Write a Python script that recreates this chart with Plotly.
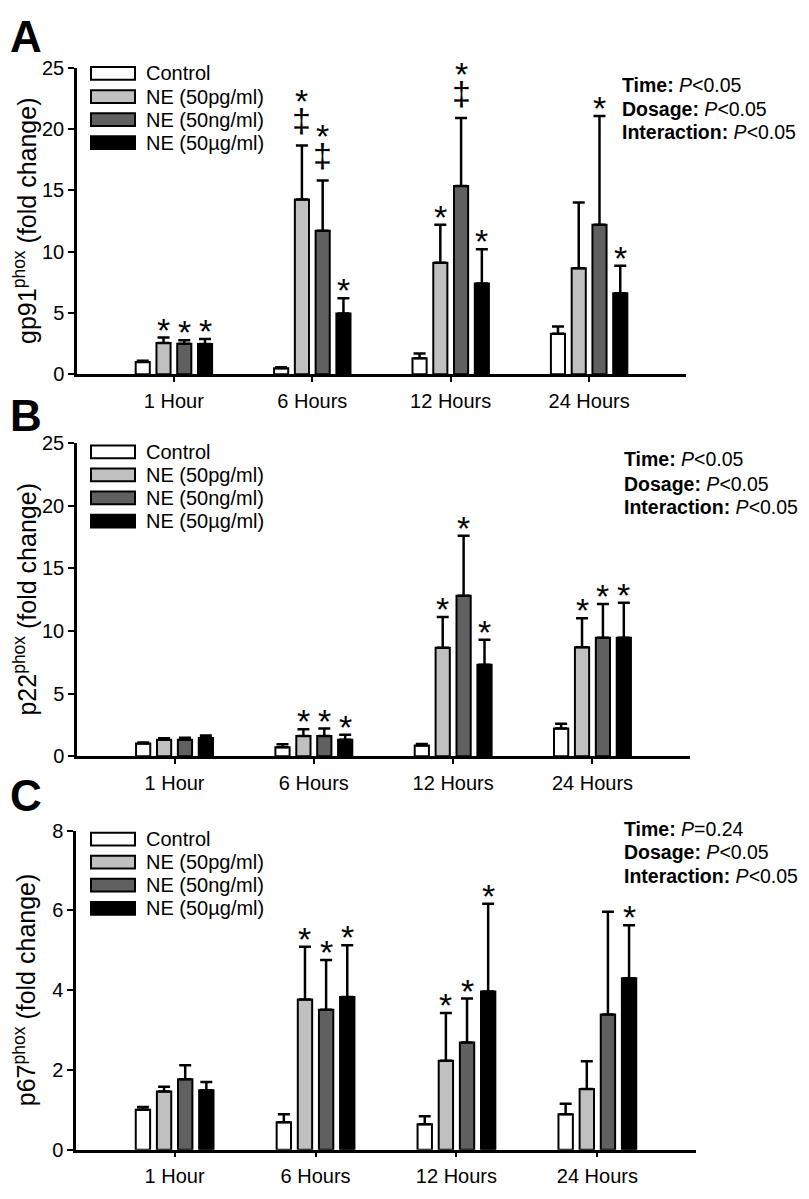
import plotly.graph_objects as go

# ---------------- data ----------------
categories = ["1 Hour", "6 Hours", "12 Hours", "24 Hours"]
groups = ["Control", "NE (50pg/ml)", "NE (50ng/ml)", "NE (50µg/ml)"]

# Panel A: gp91phox
gp91_control = [1.0, 0.5, 1.3, 3.3]
gp91_control_err = [0.1, 0.08, 0.4, 0.6]
gp91_pg = [2.55, 14.25, 9.1, 8.65]
gp91_pg_err = [0.45, 4.4, 3.1, 5.35]
gp91_ng = [2.5, 11.7, 15.35, 12.2]
gp91_ng_err = [0.27, 4.1, 5.55, 8.85]
gp91_ug = [2.48, 4.95, 7.4, 6.6]
gp91_ug_err = [0.4, 1.25, 2.8, 2.25]
gp91_sig = [["", "", "", ""],
            ["*", "*‡", "*", ""],
            ["*", "*‡", "*‡", "*"],
            ["*", "*", "*", "*"]]

# Panel B: p22phox
p22_control = [1.0, 0.7, 0.85, 2.2]
p22_control_err = [0.08, 0.25, 0.12, 0.38]
p22_pg = [1.3, 1.6, 8.65, 8.7]
p22_pg_err = [0.12, 0.55, 2.45, 2.3]
p22_ng = [1.3, 1.6, 12.8, 9.45]
p22_ng_err = [0.17, 0.6, 4.8, 2.7]
p22_ug = [1.45, 1.3, 7.3, 9.45]
p22_ug_err = [0.2, 0.4, 2.0, 2.8]
p22_sig = [["", "", "", ""],
           ["", "*", "*", "*"],
           ["", "*", "*", "*"],
           ["", "*", "*", "*"]]

# Panel C: p67phox
p67_control = [1.0, 0.69, 0.64, 0.89]
p67_control_err = [0.07, 0.2, 0.2, 0.26]
p67_pg = [1.46, 3.77, 2.23, 1.52]
p67_pg_err = [0.12, 1.32, 1.2, 0.7]
p67_ng = [1.77, 3.51, 2.69, 3.39]
p67_ng_err = [0.35, 1.25, 1.1, 2.58]
p67_ug = [1.49, 3.83, 3.97, 4.3]
p67_ug_err = [0.21, 1.3, 2.2, 1.33]
p67_sig = [["", "", "", ""],
           ["", "*", "*", ""],
           ["", "*", "*", ""],
           ["", "*", "*", "*"]]

stats_A = ["<b>Time:</b> <i>P</i>&lt;0.05", "<b>Dosage:</b> <i>P</i>&lt;0.05", "<b>Interaction:</b> <i>P</i>&lt;0.05"]
stats_B = ["<b>Time:</b> <i>P</i>&lt;0.05", "<b>Dosage:</b> <i>P</i>&lt;0.05", "<b>Interaction:</b> <i>P</i>&lt;0.05"]
stats_C = ["<b>Time:</b> <i>P</i>=0.24", "<b>Dosage:</b> <i>P</i>&lt;0.05", "<b>Interaction:</b> <i>P</i>&lt;0.05"]

panels = [
    dict(letter="A", ytitle="gp91<sup>phox</sup> (fold change)", yrange=[0, 25], dtick=5,
         vals=[gp91_control, gp91_pg, gp91_ng, gp91_ug],
         errs=[gp91_control_err, gp91_pg_err, gp91_ng_err, gp91_ug_err],
         sig=gp91_sig, stats=stats_A),
    dict(letter="B", ytitle="p22<sup>phox</sup> (fold change)", yrange=[0, 25], dtick=5,
         vals=[p22_control, p22_pg, p22_ng, p22_ug],
         errs=[p22_control_err, p22_pg_err, p22_ng_err, p22_ug_err],
         sig=p22_sig, stats=stats_B),
    dict(letter="C", ytitle="p67<sup>phox</sup> (fold change)", yrange=[0, 8], dtick=2,
         vals=[p67_control, p67_pg, p67_ng, p67_ug],
         errs=[p67_control_err, p67_pg_err, p67_ng_err, p67_ug_err],
         sig=p67_sig, stats=stats_C),
]

# ---------------- styling / geometry ----------------
# page body has an 8px margin, so the figure is drawn 8px in from the window edge
OFF = 8
W, H = 809 - OFF, 1199 - OFF
FONT = "Liberation Sans, Arial, Helvetica, sans-serif"
fills = ["#ffffff", "#c0c0c0", "#606060", "#000000"]

# positions below are in window pixels
geom = [
    dict(left=77, right=686, top=57.5, bottom=370, letter_y=26, leg_y=63.5, stats_x=620, stats_y=[75, 100, 123.5]),
    dict(left=77, right=690, top=440, bottom=759, letter_y=412, leg_y=449, stats_x=622, stats_y=[456.7, 481.7, 505.5]),
    dict(left=76, right=696, top=835, bottom=1160, letter_y=799, leg_y=843.5, stats_x=622, stats_y=[833, 857, 881]),
]


def px(x):
    return (x - OFF) / W


def py(y):
    return 1 - (y - OFF) / H


fig = go.Figure()
annotations = []
shapes = []
MARK = dict(size=34, family=FONT, color="black")

for p, (panel, g) in enumerate(zip(panels, geom), start=1):
    xa = "x" if p == 1 else f"x{p}"
    ya = "y" if p == 1 else f"y{p}"
    for j, grp in enumerate(groups):
        fig.add_trace(go.Bar(
            x=categories, y=panel["vals"][j], name=grp, showlegend=False,
            xaxis=xa, yaxis=ya, offsetgroup=str(j),
            marker=dict(color=fills[j], line=dict(color="black", width=2)),
            error_y=dict(type="data", symmetric=False, array=panel["errs"][j],
                         arrayminus=[0] * len(categories), color="black",
                         thickness=2.5, width=6),
        ))
        # significance marks
        for i, s in enumerate(panel["sig"][j]):
            if not s:
                continue
            top = panel["vals"][j][i] + panel["errs"][j][i]
            xpos = i + (j - 1.5) * 0.15
            if "‡" in s:
                annotations.append(dict(x=xpos, y=top, xref=xa, yref=ya, text="‡", showarrow=False,
                                        yanchor="middle", yshift=25, font=MARK))
                annotations.append(dict(x=xpos, y=top, xref=xa, yref=ya, text="*", showarrow=False,
                                        yanchor="middle", yshift=44, font=MARK))
            else:
                annotations.append(dict(x=xpos, y=top, xref=xa, yref=ya, text="*", showarrow=False,
                                        yanchor="middle", yshift=8, font=MARK))

    xkey = "xaxis" if p == 1 else f"xaxis{p}"
    ykey = "yaxis" if p == 1 else f"yaxis{p}"
    fig.update_layout(**{
        xkey: dict(domain=[px(g["left"]), px(g["right"])], anchor=ya, range=[-0.7, 3.7],
                   showline=True, linecolor="black", linewidth=2.5, ticks="outside", ticklen=5,
                   tickwidth=2, tickcolor="black", showgrid=False, zeroline=False,
                   tickfont=dict(size=20, family=FONT, color="black"), ticklabelstandoff=2),
        ykey: dict(domain=[py(g["bottom"]), py(g["top"])], anchor=xa, range=panel["yrange"],
                   dtick=panel["dtick"], showline=True, linecolor="black", linewidth=2.5,
                   ticks="outside", ticklen=6, tickwidth=2, tickcolor="black", showgrid=False,
                   zeroline=False, tickfont=dict(size=20, family=FONT, color="black"),
                   ticklabelstandoff=0),
    })

    # y-axis title
    annotations.append(dict(x=px(25), y=py((g["top"] + g["bottom"]) / 2), xref="paper", yref="paper",
                            text=panel["ytitle"], textangle=-90, showarrow=False,
                            xanchor="center", yanchor="middle",
                            font=dict(size=25, family=FONT, color="black")))
    # panel letter
    annotations.append(dict(x=0, y=py(g["letter_y"]), xref="paper", yref="paper", text=f"<b>{panel['letter']}</b>",
                            showarrow=False, xanchor="left", yanchor="middle",
                            font=dict(size=44, family=FONT, color="black")))
    # stats text
    for k, t in enumerate(panel["stats"]):
        annotations.append(dict(x=px(g["stats_x"]), y=py(g["stats_y"][k]), xref="paper", yref="paper",
                                text=t, showarrow=False, xanchor="left", yanchor="middle",
                                font=dict(size=19.5, family=FONT, color="black")))
    # legend (manual)
    for j, grp in enumerate(groups):
        cy = g["leg_y"] + j * 23.5
        shapes.append(dict(type="rect", xref="paper", yref="paper",
                           x0=px(91), x1=px(135), y0=py(cy - 6.5), y1=py(cy + 6.5),
                           fillcolor=fills[j], line=dict(color="black", width=2)))
        annotations.append(dict(x=px(144), y=py(cy), xref="paper", yref="paper", text=grp,
                                showarrow=False, xanchor="left", yanchor="middle",
                                font=dict(size=20, family=FONT, color="black")))

fig.update_layout(
    width=W, height=H, margin=dict(l=0, r=0, t=0, b=0),
    paper_bgcolor="white", plot_bgcolor="white",
    barmode="group", bargap=0.4, bargroupgap=0.32,
    annotations=annotations, shapes=shapes,
    font=dict(family=FONT, color="black"),
)

fig.write_html("out.html")
